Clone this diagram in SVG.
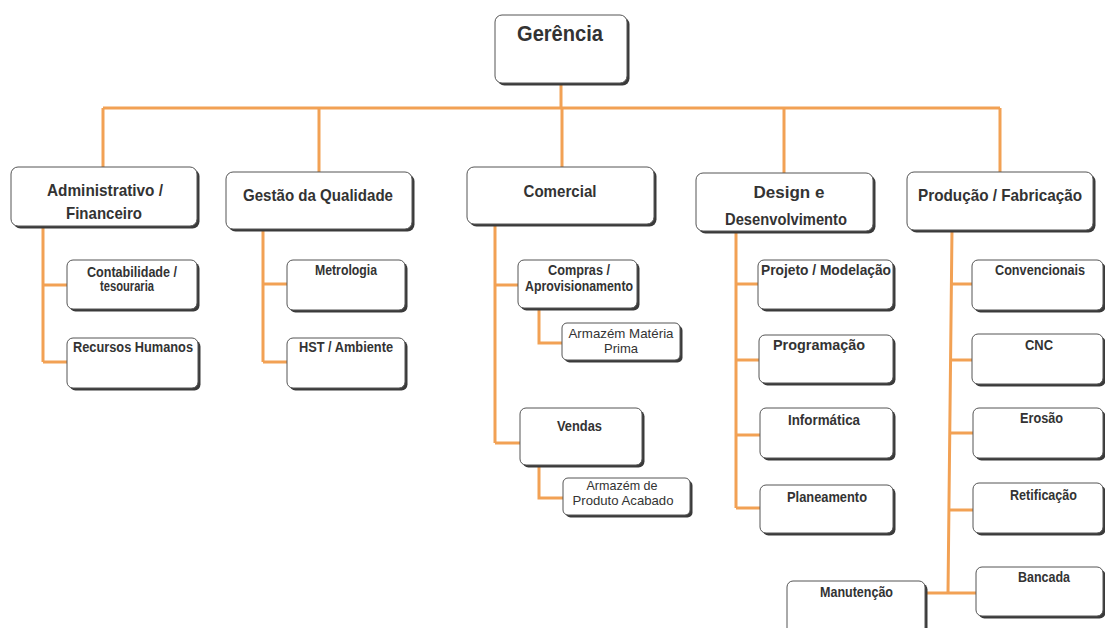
<svg xmlns="http://www.w3.org/2000/svg" width="1105" height="628" viewBox="0 0 1105 628">
<style>
.sh{fill:#3a3a3a}
.bx{fill:#fff;stroke:#555;stroke-width:1}
.t{font-family:"Liberation Sans",Arial,sans-serif;font-weight:bold;fill:#333;text-anchor:middle}
.t0{font-size:22px}
.t1{font-size:17px}
.t2{font-size:14px}
.tn{font-family:"Liberation Sans",Arial,sans-serif;font-weight:normal;font-size:13.5px;fill:#333;text-anchor:middle}
.c{fill:none;stroke:#f2a154;stroke-width:3}
</style>
<rect width="1105" height="628" fill="#fff"/>
<g id="connectors">
<path class="c" d="M561 83V108M103 108H1000M103 108V167M319 108V172M562 108V167M784 108V173M1000 108V172"/>
<path class="c" d="M43 226V362M43 285H67M43 362H67"/>
<path class="c" d="M263 229V362M263 284H287M263 362H287"/>
<path class="c" d="M495 224V443M495 285H518M495 443H520M539 308V343H562M539 465V498H563"/>
<path class="c" d="M736 231V508M736 284H758M736 360H759M736 435H760M736 508H760"/>
<path class="c" d="M952 230L948 593M951 284H972M951 360H972M950 433H973M949 510H973M925 593H976"/>
</g>
<g id="gerencia"><rect class="sh" x="497.5" y="17.5" width="132" height="68" rx="7"/><rect class="bx" x="495" y="15" width="132" height="68" rx="7"/><text class="t t0" x="560" y="41" textLength="86" lengthAdjust="spacingAndGlyphs">Gerência</text></g>
<g id="administrativo"><rect class="sh" x="13.5" y="169.5" width="186" height="59" rx="7"/><rect class="bx" x="11" y="167" width="186" height="59" rx="7"/><text class="t t1" x="105" y="196" textLength="116" lengthAdjust="spacingAndGlyphs">Administrativo /</text><text class="t t1" x="104" y="219" textLength="76" lengthAdjust="spacingAndGlyphs">Financeiro</text></g>
<g id="gestao"><rect class="sh" x="228.5" y="174.5" width="186" height="57" rx="7"/><rect class="bx" x="226" y="172" width="186" height="57" rx="7"/><text class="t t1" x="318" y="201" textLength="150" lengthAdjust="spacingAndGlyphs">Gestão da Qualidade</text></g>
<g id="comercial"><rect class="sh" x="469.5" y="169.5" width="187" height="57" rx="7"/><rect class="bx" x="467" y="167" width="187" height="57" rx="7"/><text class="t t1" x="560" y="197" textLength="73" lengthAdjust="spacingAndGlyphs">Comercial</text></g>
<g id="design"><rect class="sh" x="698.5" y="175.5" width="177" height="58" rx="7"/><rect class="bx" x="696" y="173" width="177" height="58" rx="7"/><text class="t t1" x="789" y="198">Design e</text><text class="t t1" x="786" y="225" textLength="122" lengthAdjust="spacingAndGlyphs">Desenvolvimento</text></g>
<g id="producao"><rect class="sh" x="909.5" y="174.5" width="186" height="58" rx="7"/><rect class="bx" x="907" y="172" width="186" height="58" rx="7"/><text class="t t1" x="1000" y="201" textLength="164" lengthAdjust="spacingAndGlyphs">Produção / Fabricação</text></g>
<g id="contabilidade"><rect class="sh" x="69.5" y="262.5" width="130" height="49" rx="6"/><rect class="bx" x="67" y="260" width="130" height="49" rx="6"/><text class="t t2" x="132" y="277" textLength="90" lengthAdjust="spacingAndGlyphs">Contabilidade /</text><text class="t t2" x="127" y="291" textLength="54" lengthAdjust="spacingAndGlyphs">tesouraria</text></g>
<g id="rh"><rect class="sh" x="69.5" y="340.5" width="131" height="50" rx="6"/><rect class="bx" x="67" y="338" width="131" height="50" rx="6"/><text class="t t2" x="133" y="352" textLength="120" lengthAdjust="spacingAndGlyphs">Recursos Humanos</text></g>
<g id="metrologia"><rect class="sh" x="289.5" y="262.5" width="118" height="50" rx="6"/><rect class="bx" x="287" y="260" width="118" height="50" rx="6"/><text class="t t2" x="346" y="275" textLength="62" lengthAdjust="spacingAndGlyphs">Metrologia</text></g>
<g id="hst"><rect class="sh" x="289.5" y="340.5" width="118" height="50" rx="6"/><rect class="bx" x="287" y="338" width="118" height="50" rx="6"/><text class="t t2" x="346" y="352" textLength="94" lengthAdjust="spacingAndGlyphs">HST / Ambiente</text></g>
<g id="compras"><rect class="sh" x="520.5" y="262.5" width="119" height="48" rx="6"/><rect class="bx" x="518" y="260" width="119" height="48" rx="6"/><text class="t t2" x="579" y="275" textLength="62" lengthAdjust="spacingAndGlyphs">Compras /</text><text class="t t2" x="579" y="291" textLength="108" lengthAdjust="spacingAndGlyphs">Aprovisionamento</text></g>
<g id="armazem-mp"><rect class="sh" x="564.5" y="325.5" width="118" height="37" rx="5"/><rect class="bx" x="562" y="323" width="118" height="37" rx="5"/><text class="tn" x="621" y="338" textLength="105" lengthAdjust="spacingAndGlyphs">Armazém Matéria</text><text class="tn" x="621" y="353" textLength="34" lengthAdjust="spacingAndGlyphs">Prima</text></g>
<g id="vendas"><rect class="sh" x="522.5" y="410.5" width="122" height="57" rx="6"/><rect class="bx" x="520" y="408" width="122" height="57" rx="6"/><text class="t t2" x="579.5" y="431" textLength="45" lengthAdjust="spacingAndGlyphs">Vendas</text></g>
<g id="armazem-pa"><rect class="sh" x="565.5" y="480.5" width="127" height="37" rx="5"/><rect class="bx" x="563" y="478" width="127" height="37" rx="5"/><text class="tn" x="622" y="490" textLength="71" lengthAdjust="spacingAndGlyphs">Armazém de</text><text class="tn" x="623" y="505" textLength="101" lengthAdjust="spacingAndGlyphs">Produto Acabado</text></g>
<g id="projeto"><rect class="sh" x="760.5" y="262.5" width="135" height="49" rx="6"/><rect class="bx" x="758" y="260" width="135" height="49" rx="6"/><text class="t t2" x="826" y="275" textLength="130" lengthAdjust="spacingAndGlyphs">Projeto / Modelação</text></g>
<g id="programacao"><rect class="sh" x="761.5" y="337.5" width="134" height="48" rx="6"/><rect class="bx" x="759" y="335" width="134" height="48" rx="6"/><text class="t t2" x="819" y="350" textLength="92" lengthAdjust="spacingAndGlyphs">Programação</text></g>
<g id="informatica"><rect class="sh" x="762.5" y="410.5" width="133" height="50" rx="6"/><rect class="bx" x="760" y="408" width="133" height="50" rx="6"/><text class="t t2" x="824" y="425" textLength="72" lengthAdjust="spacingAndGlyphs">Informática</text></g>
<g id="planeamento"><rect class="sh" x="762.5" y="487.5" width="133" height="48" rx="6"/><rect class="bx" x="760" y="485" width="133" height="48" rx="6"/><text class="t t2" x="827" y="502" textLength="80" lengthAdjust="spacingAndGlyphs">Planeamento</text></g>
<g id="convencionais"><rect class="sh" x="974.5" y="262.5" width="131" height="50" rx="6"/><rect class="bx" x="972" y="260" width="131" height="50" rx="6"/><text class="t t2" x="1040" y="275" textLength="90" lengthAdjust="spacingAndGlyphs">Convencionais</text></g>
<g id="cnc"><rect class="sh" x="974.5" y="336.5" width="131" height="50" rx="6"/><rect class="bx" x="972" y="334" width="131" height="50" rx="6"/><text class="t t2" x="1039" y="350" textLength="28" lengthAdjust="spacingAndGlyphs">CNC</text></g>
<g id="erosao"><rect class="sh" x="975.5" y="410.5" width="130" height="50" rx="6"/><rect class="bx" x="973" y="408" width="130" height="50" rx="6"/><text class="t t2" x="1041.5" y="423" textLength="43" lengthAdjust="spacingAndGlyphs">Erosão</text></g>
<g id="retificacao"><rect class="sh" x="975.5" y="485.5" width="130" height="50" rx="6"/><rect class="bx" x="973" y="483" width="130" height="50" rx="6"/><text class="t t2" x="1043.5" y="500" textLength="67" lengthAdjust="spacingAndGlyphs">Retificação</text></g>
<g id="bancada"><rect class="sh" x="978.5" y="569.5" width="127" height="49" rx="6"/><rect class="bx" x="976" y="567" width="127" height="49" rx="6"/><text class="t t2" x="1044" y="582" textLength="52" lengthAdjust="spacingAndGlyphs">Bancada</text></g>
<g id="manutencao"><rect class="sh" x="789.5" y="583.5" width="138" height="60" rx="6"/><rect class="bx" x="787" y="581" width="138" height="60" rx="6"/><text class="t t2" x="856.5" y="597" textLength="73" lengthAdjust="spacingAndGlyphs">Manutenção</text></g>
</svg>
